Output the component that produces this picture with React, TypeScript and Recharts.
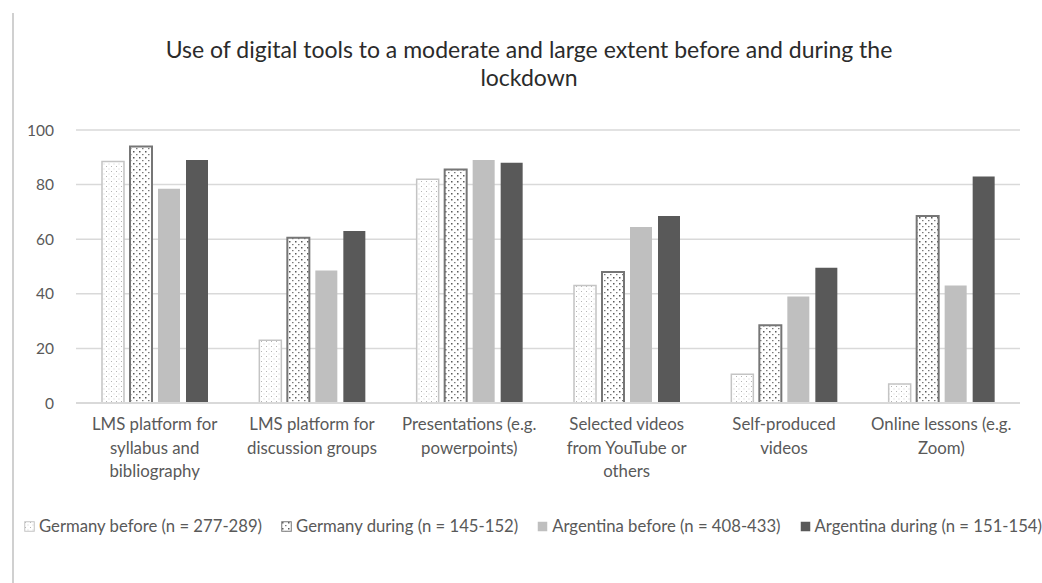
import React from 'react';
import { BarChart, Bar, XAxis, YAxis, CartesianGrid } from 'recharts';

const categories = [
  'LMS platform for\nsyllabus and\nbibliography',
  'LMS platform for\ndiscussion groups',
  'Presentations (e.g.\npowerpoints)',
  'Selected videos\nfrom YouTube or\nothers',
  'Self-produced\nvideos',
  'Online lessons (e.g.\nZoom)',
];

const germanyBefore = [88.5, 23, 82, 43, 10.5, 7];
const germanyDuring = [94, 60.5, 85.5, 48, 28.5, 68.5];
const argentinaBefore = [78.5, 48.5, 89, 64.5, 39, 43];
const argentinaDuring = [89, 63, 88, 68.5, 49.5, 83];

const yTicks = [0, 20, 40, 60, 80, 100];

const series = [
  { key: 'gb', name: 'Germany before (n = 277-289)', values: germanyBefore },
  { key: 'gd', name: 'Germany during (n = 145-152)', values: germanyDuring },
  { key: 'ab', name: 'Argentina before (n = 408-433)', values: argentinaBefore },
  { key: 'ad', name: 'Argentina during (n = 151-154)', values: argentinaDuring },
];

const data = categories.map((c, i) => {
  const row: Record<string, string | number> = { name: c };
  series.forEach((s) => { row[s.key] = s.values[i]; });
  return row;
});

// fill / stroke per series
const styles: Record<string, { fill: string; stroke: string; strokeWidth: number }> = {
  gb: { fill: 'url(#dotsLight)', stroke: '#c4c4c4', strokeWidth: 1.5 },
  gd: { fill: 'url(#dotsDark)', stroke: '#767676', strokeWidth: 2 },
  ab: { fill: '#bfbfbf', stroke: 'none', strokeWidth: 0 },
  ad: { fill: '#595959', stroke: 'none', strokeWidth: 0 },
};

const FONT = 'Lato, "Open Sans", sans-serif';
const TEXT = '#595959';

const CategoryTick = (props: any) => {
  const { x, y, payload } = props;
  const lines = String(payload.value).split('\n');
  return (
    <text x={x} y={y + 19} textAnchor="middle" fill={TEXT} fontSize={16.8} fontFamily={FONT}>
      {lines.map((l, i) => (
        <tspan key={i} x={x} dy={i === 0 ? 0 : 23.5}>{l}</tspan>
      ))}
    </text>
  );
};

const Patterns = () => (
  <svg width={0} height={0} style={{ position: 'absolute' }}>
    <defs>
      <pattern id="dotsLight" width={5} height={5} patternUnits="userSpaceOnUse">
        <rect width={5} height={5} fill="#ffffff" />
        <rect x={1} y={1} width={1} height={1} fill="#b5b5b5" />
        <rect x={3.5} y={3.5} width={1} height={1} fill="#cfcfcf" />
      </pattern>
      <pattern id="dotsDark" width={6} height={6} patternUnits="userSpaceOnUse">
        <rect width={6} height={6} fill="#ffffff" />
        <rect x={1} y={1} width={1.5} height={1.5} fill="#5a5a5a" />
        <rect x={4} y={4} width={1.5} height={1.2} fill="#7a7a7a" />
      </pattern>
    </defs>
  </svg>
);

export default function App() {
  return (
    <div style={{ position: 'absolute', left: 0, top: 0, width: 1042, height: 583, background: '#fff', fontFamily: FONT, overflow: 'hidden' }}>
      <Patterns />
      <div style={{ position: 'absolute', left: 12, top: 13, width: 2, height: 570, background: '#d0d0d0' }} />
      <div style={{ position: 'absolute', left: 0, top: 35, width: 1058, textAlign: 'center', fontSize: 23, lineHeight: '28px', color: '#2b2b2b' }}>
        Use of digital tools to a moderate and large extent before and during the
        <br />
        lockdown
      </div>
      <BarChart
        width={1042}
        height={583}
        data={data}
        margin={{ top: 130, right: 22, left: 0, bottom: 0 }}
        barSize={22}
        barGap={6}
        style={{ position: 'absolute', left: 0, top: 0 }}
      >
        <CartesianGrid vertical={false} stroke="#d9d9d9" strokeWidth={1.5} />
        <XAxis
          dataKey="name"
          height={180}
          tickLine={false}
          axisLine={{ stroke: '#d9d9d9', strokeWidth: 2 }}
          tick={<CategoryTick />}
          interval={0}
        />
        <YAxis
          width={76}
          domain={[0, 100]}
          ticks={yTicks}
          tickLine={false}
          axisLine={false}
          tickMargin={16}
          tick={{ fill: TEXT, fontSize: 15.5, fontFamily: FONT }}
        />
        {series.map((s) => (
          <Bar
            key={s.key}
            dataKey={s.key}
            name={s.name}
            fill={styles[s.key].fill}
            stroke={styles[s.key].stroke}
            strokeWidth={styles[s.key].strokeWidth}
            isAnimationActive={false}
          />
        ))}
      </BarChart>
      <div style={{ position: 'absolute', left: 24, top: 516, whiteSpace: 'nowrap', fontSize: 16.7, color: TEXT, display: 'flex', alignItems: 'center' }}>
        {series.map((s) => (
          <span key={s.key} style={{ display: 'inline-flex', alignItems: 'center', marginRight: 19 }}>
            <svg width={11} height={11} style={{ marginRight: 4 }}>
              <rect x={0.75} y={0.75} width={9.5} height={9.5} fill={styles[s.key].fill}
                stroke={s.key === 'gb' || s.key === 'gd' ? styles[s.key].stroke : 'none'} strokeWidth={1} />
            </svg>
            {s.name}
          </span>
        ))}
      </div>
    </div>
  );
}
